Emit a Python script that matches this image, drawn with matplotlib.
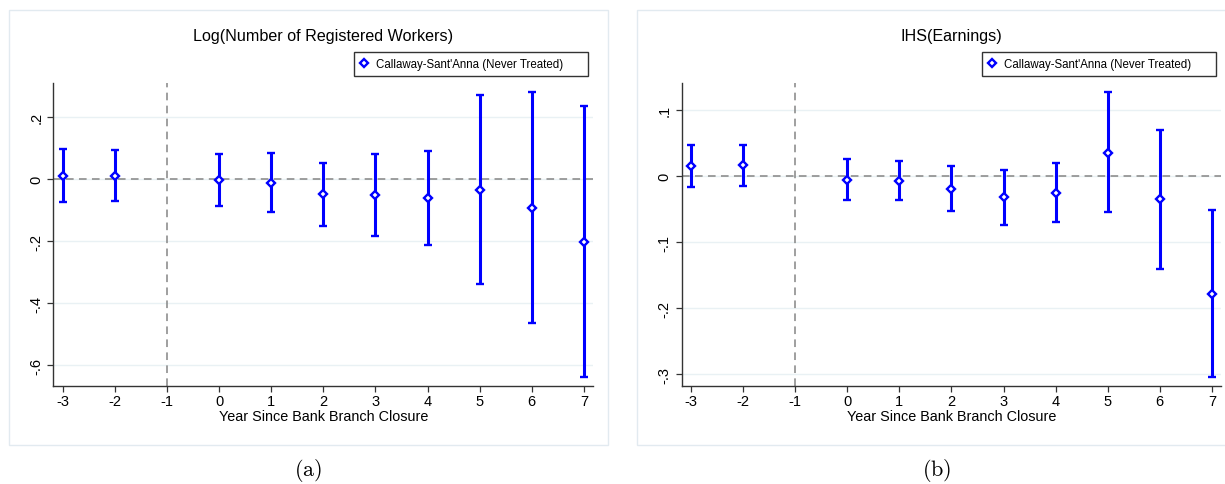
import matplotlib
matplotlib.use("Agg")
import matplotlib.pyplot as plt
from matplotlib.patches import Rectangle
from matplotlib.lines import Line2D
import numpy as np

plt.rcParams['font.family'] = ['Liberation Sans', 'DejaVu Sans']
plt.rcParams['mathtext.fontset'] = 'cm'

years = [-3, -2, 0, 1, 2, 3, 4, 5, 6, 7]
xticks = [-3, -2, -1, 0, 1, 2, 3, 4, 5, 6, 7]

# Panel (a): Log(Number of Registered Workers)
a_est = [0.012, 0.011, -0.003, -0.011, -0.049, -0.052, -0.060, -0.033, -0.091, -0.202]
a_lo = [-0.072, -0.070, -0.085, -0.104, -0.151, -0.184, -0.211, -0.337, -0.462, -0.637]
a_hi = [0.097, 0.093, 0.081, 0.084, 0.053, 0.083, 0.092, 0.273, 0.281, 0.235]
a_yticks = [-0.6, -0.4, -0.2, 0, 0.2]
a_ylabels = ['-.6', '-.4', '-.2', '0', '.2']

# Panel (b): IHS(Earnings)
b_est = [0.016, 0.017, -0.006, -0.007, -0.019, -0.032, -0.025, 0.036, -0.035, -0.178]
b_lo = [-0.016, -0.014, -0.036, -0.036, -0.052, -0.074, -0.070, -0.054, -0.140, -0.304]
b_hi = [0.048, 0.048, 0.026, 0.024, 0.015, 0.010, 0.020, 0.128, 0.071, -0.051]
b_yticks = [-0.3, -0.2, -0.1, 0, 0.1]
b_ylabels = ['-.3', '-.2', '-.1', '0', '.1']

legend_label = "Callaway-Sant'Anna (Never Treated)"
xlabel = "Year Since Bank Branch Closure"

W, H = 1225, 485
fig = plt.figure(figsize=(W / 100, H / 100), dpi=100)

def fx(px):
    return px / W

def fy(py):
    return 1 - py / H

# panel frames
for x0, x1 in [(9.3, 608.3), (637.3, 1240)]:
    r = Rectangle((fx(x0), fy(446)), fx(x1) - fx(x0), fy(11) - fy(446),
                  transform=fig.transFigure, facecolor='white',
                  edgecolor='#e2eaf0', linewidth=1.0, zorder=-5)
    fig.patches.append(r)

panels = [
    dict(left=53.3, right=593.3, title="Log(Number of Registered Workers)", est=a_est, lo=a_lo, hi=a_hi,
         yt=a_yticks, yl=a_ylabels, ylim=(-0.6658, 0.3106), xlim=(-3.18, 7.18),
         leg=(354.3, 587.7), cap="(a)", cap_x=308.3),
    dict(left=681.7, right=1220.7, title="IHS(Earnings)", est=b_est, lo=b_lo, hi=b_hi,
         yt=b_yticks, yl=b_ylabels, ylim=(-0.3177, 0.1416), xlim=(-3.18, 7.17),
         leg=(982.3, 1215.7), cap="(b)", cap_x=936.7),
]

blue = '#0000ff'
for p in panels:
    ax = fig.add_axes([fx(p['left']), fy(386.7), fx(p['right']) - fx(p['left']), fy(84) - fy(386.7)])
    ax.set_zorder(1)
    ax.patch.set_alpha(0)
    est = np.array(p['est'])
    lo = np.array(p['lo'])
    hi = np.array(p['hi'])
    ax.errorbar(years, est, yerr=[est - lo, hi - est], fmt='D', color=blue, ecolor=blue,
                elinewidth=2.2, capsize=2.8, capthick=2.2, markersize=4.5,
                markerfacecolor='white', markeredgecolor=blue, markeredgewidth=1.7,
                zorder=3)
    ax.axhline(0, color='#858585', linestyle=(0, (5, 3.5)), linewidth=1.1, zorder=2)
    ax.axvline(-1, color='#858585', linestyle=(0, (5, 3.5)), linewidth=1.1, zorder=2)
    ax.set_xlim(*p['xlim'])
    ax.set_ylim(*p['ylim'])
    ax.set_xticks(xticks)
    ax.set_xticklabels([str(v) for v in xticks], fontsize=10.5)
    ax.set_yticks(p['yt'])
    ax.set_yticklabels(p['yl'], fontsize=10.5, rotation=90, va='center')
    ax.yaxis.grid(True, color='#e9f1f4', linewidth=1.0, zorder=0)
    ax.set_axisbelow(True)
    for s in ['top', 'right']:
        ax.spines[s].set_visible(False)
    for s in ['left', 'bottom']:
        ax.spines[s].set_color('#333333')
        ax.spines[s].set_linewidth(1.0)
    ax.tick_params(direction='out', length=4.3, width=0.9, color='#333333', pad=2)
    ax.tick_params(axis='y', pad=3)
    ax.set_xlabel(xlabel, fontsize=10.4, labelpad=0.5)
    cx = (p['left'] + p['right']) / 2
    fig.text(fx(cx), fy(36.5), p['title'], ha='center', va='center', fontsize=11.6)
    handle = Line2D([], [], linestyle='none', marker='D', markersize=4.5,
                    markerfacecolor='white', markeredgecolor=blue, markeredgewidth=1.7)
    lx0, lx1 = p['leg']
    leg = ax.legend([handle], [legend_label], loc='upper left',
                    bbox_to_anchor=(fx(lx0), fy(78.3), fx(lx1) - fx(lx0), fy(53.3) - fy(78.3)),
                    bbox_transform=fig.transFigure, mode='expand', fontsize=8.3, frameon=True,
                    fancybox=False, edgecolor='#333333', framealpha=1,
                    handlelength=0.6, handletextpad=0.75, borderpad=0.5, borderaxespad=0)
    leg.get_frame().set_linewidth(1.0)
    fig.text(fx(p['cap_x']), fy(470.5), r'$\mathrm{' + p['cap'] + '}$', ha='center', va='center', fontsize=16)

fig.savefig('out.png', dpi=100)
